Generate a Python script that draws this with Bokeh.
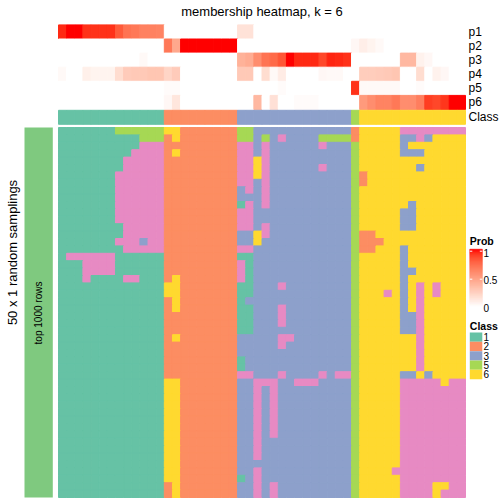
import numpy as np
from bokeh.plotting import figure
from bokeh.models import ColumnDataSource, Range1d, Label
from bokeh.embed import file_html
from bokeh.resources import INLINE
from bokeh.core.properties import value

# ---------------- data ----------------
title_text = "membership heatmap, k = 6"
prob_names = ["p1", "p2", "p3", "p4", "p5", "p6"]

p1 = [0.95, 1.0, 1.0, 0.93, 0.93, 0.93, 0.93, 0.8, 0.7, 0.68, 0.64, 0.64, 0.63,
      0, 0, 0, 0, 0, 0, 0, 0, 0,
      0.15, 0.15, 0, 0, 0, 0, 0, 0, 0, 0, 0, 0, 0, 0,
      0,
      0, 0, 0, 0, 0, 0, 0, 0, 0, 0, 0, 0, 0]
p2 = [0, 0, 0, 0, 0, 0, 0, 0, 0, 0, 0, 0, 0,
      0.68, 0.45, 1.0, 1.0, 1.0, 1.0, 1.0, 1.0, 1.0,
      0, 0, 0, 0, 0, 0, 0, 0, 0, 0, 0, 0, 0, 0,
      0.04,
      0.09, 0.06, 0.03, 0, 0, 0, 0, 0, 0, 0, 0, 0, 0]
p3 = [0, 0, 0, 0, 0, 0, 0, 0, 0, 0, 0.03, 0, 0,
      0, 0, 0, 0, 0, 0, 0, 0, 0,
      0.4, 0.43, 0.58, 0.7, 0.74, 0.82, 1.0, 0.95, 0.95, 0.95, 0.87, 0.96, 0.95, 0.93,
      0,
      0, 0, 0, 0, 0, 0.37, 0.37, 0.07, 0.04, 0, 0, 0, 0]
p4 = [0.03, 0, 0, 0.08, 0.06, 0.06, 0.06, 0.18, 0.27, 0.28, 0.28, 0.3, 0.3,
      0.22, 0.27, 0, 0, 0, 0, 0, 0, 0,
      0.28, 0.28, 0, 0.18, 0.03, 0.1, 0, 0, 0, 0, 0.04, 0.03, 0.03, 0,
      0,
      0.26, 0.26, 0.27, 0.28, 0.3, 0, 0, 0.18, 0, 0.07, 0.04, 0, 0]
p5 = [0, 0, 0, 0, 0, 0, 0, 0, 0, 0, 0, 0, 0,
      0.02, 0.02, 0, 0, 0, 0, 0, 0, 0,
      0, 0, 0, 0, 0, 0.02, 0, 0, 0, 0, 0, 0, 0, 0,
      0.93,
      0.03, 0.03, 0.03, 0.03, 0.03, 0, 0, 0.02, 0, 0, 0, 0, 0]
p6 = [0, 0, 0, 0, 0, 0, 0, 0, 0, 0, 0, 0, 0,
      0.04, 0.13, 0, 0, 0, 0, 0, 0, 0,
      0, 0, 0.37, 0, 0.16, 0, 0, 0.02, 0.02, 0.02, 0, 0, 0, 0,
      0,
      0.52, 0.58, 0.63, 0.63, 0.68, 0.58, 0.58, 0.65, 0.9, 0.87, 0.92, 1.0, 1.0]

sample_class = list("1111111111111" "222222222" "33333333333333" "5" "6666666666666")

legend_classes = ["1", "2", "3", "5", "6"]
class_colors = {"1": "#66C2A5", "2": "#FC8D62", "3": "#8DA0CB",
                "4": "#E78AC3", "5": "#A6D854", "6": "#FFD92F"}
prob_ticks = [0, 0.5, 1]
prob_tick_labels = ["0", "0.5", "1"]

# class of every sample in each of the 50 random samplings (rows)
sampling_class = [
    "1111111555555" "662222222" "55333333333333" "2" "6666644444444",
    "1111111111555" "262222222" "55353433335555" "2" "6666633436666",
    "1111111111444" "222222222" "44343333334333" "5" "6666636666666",
    "1111111114444" "262222222" "44343333333333" "5" "6666633366666",
    "1111111144444" "222222222" "44643333333333" "5" "6666666666666",
    "1111111144444" "222222222" "44643333334333" "5" "6666666366666",
    "1111111444444" "222222222" "44643333333333" "5" "2666666666666",
    "1111111444444" "222222222" "44343333333333" "5" "2666666666666",
    "1111111444444" "222222222" "34343333333333" "5" "6666666666666",
    "1111111444444" "222222222" "33343333333333" "5" "6666666666666",
    "1111111444444" "222222222" "14343333333333" "5" "6666663666666",
    "1111111444444" "222222222" "44333333333333" "5" "6666633666666",
    "1111111444444" "222222222" "44333333333333" "5" "6666633666666",
    "1111111144444" "222222222" "44343333333333" "5" "6666633666666",
    "1111111144444" "222222222" "33643333333333" "5" "2266666666666",
    "1111111444344" "222222222" "33633333333333" "5" "2226666666666",
    "1111111144444" "222222222" "44333333333333" "5" "2266636666666",
    "1444444111111" "222222222" "11333333333333" "5" "6666636666666",
    "1114444111111" "222222222" "41333333333333" "5" "6666636666666",
    "1114444111111" "222222222" "41333333333333" "5" "6666633666666",
    "1114111144111" "262222222" "41333333333333" "5" "6666636666666",
    "1111111111111" "662222222" "11333433333333" "5" "6666636464666",
    "1111111111111" "662222222" "11333333333333" "5" "6664636464666",
    "1111111111111" "262222222" "13333333333333" "5" "6666636466666",
    "1111111111111" "262222222" "11333433333333" "5" "6666636466666",
    "1111111111111" "222222222" "11333433333333" "5" "6666633466666",
    "1111111111111" "222222222" "11333433333333" "5" "6666633466666",
    "1111111111111" "222222222" "11333333333333" "5" "6666633466666",
    "1111111111111" "262222222" "33333443333333" "5" "6666666466666",
    "1111111111111" "222222222" "33333433333333" "5" "6666666466666",
    "1111111111111" "222222222" "33333333333333" "5" "6666666466666",
    "1111111111111" "222222222" "13333333333333" "5" "6666666466666",
    "1111111111111" "222222222" "13333333333333" "5" "6666666466666",
    "1111111111111" "222222222" "44333433334344" "5" "6666633636666",
    "1111111111111" "662222222" "33444334443333" "5" "6666644444644",
    "1111111111111" "662222222" "33434333333333" "5" "6666644444444",
    "1111111111111" "662222222" "33434333333333" "5" "6666644444444",
    "1111111111111" "662222222" "33434333333333" "5" "6666644444444",
    "1111111111111" "662222222" "33434333333333" "5" "6666644444444",
    "1111111111111" "662222222" "33434333333333" "5" "6666644444444",
    "1111111111111" "662222222" "33434333333333" "5" "6666644444444",
    "1111111111111" "662222222" "33434333333333" "5" "6666644444444",
    "1111111111111" "662222222" "33433333333333" "5" "6666644444444",
    "1111111111111" "662222222" "33433333333333" "5" "6666644444444",
    "1111111111111" "662222222" "33433333333333" "5" "6666644444444",
    "1111111111111" "662222222" "33333333333333" "5" "6666644444444",
    "1111111111111" "662222222" "33433333333333" "5" "6666444444444",
    "1111111111111" "662222222" "13433333333333" "5" "6666644444444",
    "1111111111111" "262222222" "33434333333333" "5" "6666644446644",
    "1111111111111" "262222222" "33434333333333" "5" "6666644446444",
]

# ---------------- colour ramp white -> red in LAB ----------------
def _lin(c):
    c = c / 255.0
    return c / 12.92 if c <= 0.04045 else ((c + 0.055) / 1.055) ** 2.4

def _f(t):
    d = 6 / 29
    return t ** (1 / 3) if t > d ** 3 else t / (3 * d * d) + 4 / 29

def _finv(t):
    d = 6 / 29
    return t ** 3 if t > d else 3 * d * d * (t - 4 / 29)

WN = (0.95047, 1.0, 1.08883)

def to_lab(hexc):
    r, g, b = [_lin(int(hexc[i:i + 2], 16)) for i in (1, 3, 5)]
    X = 0.4124 * r + 0.3576 * g + 0.1805 * b
    Y = 0.2126 * r + 0.7152 * g + 0.0722 * b
    Z = 0.0193 * r + 0.1192 * g + 0.9505 * b
    fx, fy, fz = _f(X / WN[0]), _f(Y / WN[1]), _f(Z / WN[2])
    return 116 * fy - 16, 500 * (fx - fy), 200 * (fy - fz)

def from_lab(L, a, b):
    fy = (L + 16) / 116
    X = WN[0] * _finv(fy + a / 500)
    Y = WN[1] * _finv(fy)
    Z = WN[2] * _finv(fy - b / 200)
    rl = 3.2406 * X - 1.5372 * Y - 0.4986 * Z
    gl = -0.9689 * X + 1.8758 * Y + 0.0415 * Z
    bl = 0.0557 * X - 0.2040 * Y + 1.0570 * Z
    out = []
    for c in (rl, gl, bl):
        c = 12.92 * c if c <= 0.0031308 else 1.055 * max(c, 0) ** (1 / 2.4) - 0.055
        out.append(int(round(min(max(c, 0), 1) * 255)))
    return "#%02X%02X%02X" % tuple(out)

LAB0, LAB1 = to_lab("#FFFFFF"), to_lab("#FF0000")

def prob_color(v):
    return from_lab(*[LAB0[i] + (LAB1[i] - LAB0[i]) * v for i in range(3)])

# ---------------- layout (reference pixels) ----------------
X0, CW = 58.0, 8.14          # heatmap left edge, column width
ANN_TOP, ANN_H = 24.4, 14.1  # probability rows
CLS_TOP, CLS_BOT = 109.8, 123.8
MAIN_TOP, MAIN_BOT = 127.0, 497.0
ncol = len(sample_class)
nrow = len(sampling_class)
RH = (MAIN_BOT - MAIN_TOP) / nrow

def cx(px):  # pixel x -> column units
    return (px - X0) / CW

W = H = 504
p = figure(width=W, height=H, output_backend="svg", toolbar_location=None,
           x_range=Range1d(cx(0), cx(W)), y_range=Range1d(H, 0),
           x_axis_location=None, y_axis_location=None, min_border=0,
           background_fill_color="white", border_fill_color="white")
p.grid.visible = False
p.outline_line_color = None

FONT = "Liberation Sans"

# probability annotation rows
L, R, T, B, C = [], [], [], [], []
for i, vals in enumerate([p1, p2, p3, p4, p5, p6]):
    for c, v in enumerate(vals):
        L.append(c); R.append(c + 1)
        T.append(ANN_TOP + i * ANN_H); B.append(ANN_TOP + (i + 1) * ANN_H)
        C.append(prob_color(v))
# class annotation row
for c, k in enumerate(sample_class):
    L.append(c); R.append(c + 1); T.append(CLS_TOP); B.append(CLS_BOT)
    C.append(class_colors[k])
# main heatmap
for r, row in enumerate(sampling_class):
    for c, k in enumerate(row):
        L.append(c); R.append(c + 1)
        T.append(MAIN_TOP + r * RH); B.append(MAIN_TOP + (r + 1) * RH)
        C.append(class_colors[k])
src = ColumnDataSource(dict(left=L, right=R, top=T, bottom=B, color=C))
p.quad(left="left", right="right", top="top", bottom="bottom", source=src,
       fill_color="color", line_color="color", line_width=1.0)

# left bar
p.quad(left=[cx(24)], right=[cx(52.3)], top=[MAIN_TOP], bottom=[MAIN_BOT],
       fill_color="#7FC97F", line_color=None)

# annotation names
names = prob_names + ["Class"]
ny = [ANN_TOP + (i + 0.5) * ANN_H for i in range(6)] + [(CLS_TOP + CLS_BOT) / 2]
p.text(x=[cx(468)] * len(names), y=ny, text=names, text_font=value(FONT),
       text_font_size="12px", text_align="left", text_baseline="middle",
       text_color="black")

def label(x, y, text, size, bold=False, align="left", angle=0.0):
    p.add_layout(Label(x=x, y=y, text=text, text_font=FONT, text_font_size=size,
                       text_font_style="bold" if bold else "normal",
                       text_align=align, text_baseline="middle", angle=angle,
                       text_color="black"))

# title
label(ncol / 2, 10.8, title_text, "13px", align="center")
# left titles
label(cx(11.5), 252, "50 x 1 random samplings", "13px", align="center", angle=np.pi / 2)
label(cx(38.0), 312.5, "top 1000 rows", "10px", align="center", angle=np.pi / 2)

# ---------------- legends ----------------
LX0, LX1 = 469.3, 481.8
label(cx(LX0), 240.7, "Prob", "10.5px", bold=True)
GT, GB = 248.7, 308.7
def vy(v):
    return 306.7 - 56.0 * v
nseg = 60
gl, gr, gt, gb, gc = [], [], [], [], []
for j in range(nseg):
    y0 = GT + (GB - GT) * j / nseg
    y1 = GT + (GB - GT) * (j + 1) / nseg
    v = min(max((306.7 - (y0 + y1) / 2) / 56.0, 0), 1)
    gl.append(cx(LX0)); gr.append(cx(LX1)); gt.append(y0); gb.append(y1)
    gc.append(prob_color(v))
p.quad(left=gl, right=gr, top=gt, bottom=gb, fill_color=gc, line_color=gc,
       line_width=0.5)
tk = [t for t in prob_ticks if t > 0]
p.segment(x0=[cx(LX0)] * len(tk), x1=[cx(LX0 + 2.5)] * len(tk),
          y0=[vy(t) for t in tk], y1=[vy(t) for t in tk], line_color="white", line_width=1)
p.segment(x0=[cx(LX1 - 2.5)] * len(tk), x1=[cx(LX1)] * len(tk),
          y0=[vy(t) for t in tk], y1=[vy(t) for t in tk], line_color="white", line_width=1)
label_y = {0: 307.6, 0.5: 279.8, 1: 252.0}
p.text(x=[cx(483)] * 3, y=[label_y[t] for t in prob_ticks], text=prob_tick_labels,
       text_font=value(FONT), text_font_size="10px", text_align="left",
       text_baseline="middle", text_color="black")

label(cx(LX0), 325.0, "Class", "10.5px", bold=True)
KT, KH = 332.0, 9.33
p.quad(left=[cx(LX0)] * 5, right=[cx(LX1)] * 5,
       top=[KT + i * KH for i in range(5)], bottom=[KT + (i + 1) * KH for i in range(5)],
       fill_color=[class_colors[k] for k in legend_classes], line_color=None)
p.text(x=[cx(483)] * 5, y=[KT + (i + 0.5) * KH for i in range(5)], text=legend_classes,
       text_font=value(FONT), text_font_size="10px", text_align="left",
       text_baseline="middle", text_color="black")

open("out.html", "w").write(file_html(p, INLINE))
